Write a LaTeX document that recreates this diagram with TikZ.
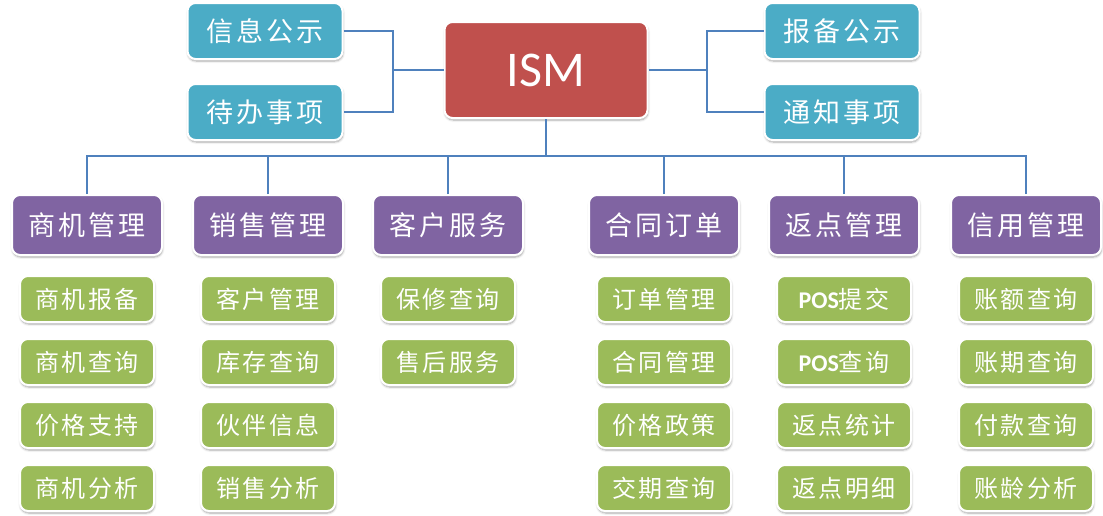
\documentclass[tikz,border=0pt]{standalone}
\usepackage{fontspec}
\setmainfont[LetterSpace=10]{Noto Sans CJK SC}
\newfontfamily\latinfont{Carlito}
\usetikzlibrary{positioning,shadows.blur}
\definecolor{noteblue}{HTML}{4BACC6}
\definecolor{rootred}{HTML}{C0504D}
\definecolor{modpurple}{HTML}{8064A2}
\definecolor{subgreen}{HTML}{9BBB59}
\definecolor{linkblue}{HTML}{4F81BD}
\tikzset{
  card/.style={draw=white, line width=2pt, rounded corners=8pt, text=white, inner sep=0pt,
    blur shadow={shadow xshift=0.5pt, shadow yshift=-2pt, shadow blur steps=6, shadow opacity=35}},
  rootcard/.style={card, fill=rootred, minimum width=203pt, minimum height=96pt,
    font=\latinfont\fontsize{50}{52}\selectfont},
  notecard/.style={card, fill=noteblue, minimum width=155pt, minimum height=56pt,
    font=\fontsize{27}{30}\selectfont},
  modcard/.style={card, fill=modpurple, minimum width=150pt, minimum height=60pt,
    font=\fontsize{27}{30}\selectfont},
  subcard/.style={card, fill=subgreen, minimum width=134pt, minimum height=46pt,
    font=\fontsize{24}{26}\selectfont},
  link/.style={draw=linkblue, line width=1.5pt}
}

\begin{document}
\begin{tikzpicture}[x=1pt,y=-1pt]
        \useasboundingbox (0,0) rectangle (1103,515);

        %-----------------------------------------------
        \node[rootcard] (ism) at (546,70) {ISM};
        \node[notecard] (info) at (265,31) {信息公示};
        \node[notecard] (todo) at (265,112) {待办事项};
        \node[notecard] (report) at (842,31) {报备公示};
        \node[notecard] (notice) at (842,112) {通知事项};

        % top connectors
        \coordinate (lj) at (393,70);
        \coordinate (rj) at (707,70);
        \draw[link] (info.east) -| (lj) |- (todo.east);
        \draw[link] (lj) -- (ism.west);
        \draw[link] (report.west) -| (rj) |- (notice.west);
        \draw[link] (rj) -- (ism.east);

        %-----------------------------------------------
        \coordinate (bus) at (546,156);
        \draw[link] (ism.south) -- (bus);

        \foreach \x/\name/\items [count=\i] in {
            87/商机管理/{商机报备,商机查询,价格支持,商机分析},
            268/销售管理/{客户管理,库存查询,伙伴信息,销售分析},
            448/客户服务/{保修查询,售后服务},
            664/合同订单/{订单管理,合同管理,价格政策,交期查询},
            844/返点管理/{{\latinfont\bfseries POS}提交,{\latinfont\bfseries POS}查询,返点统计,返点明细},
            1026/信用管理/{账额查询,账期查询,付款查询,账龄分析}}
        {
            \node[modcard] (m\i) at (\x,225) {\name};
            \draw[link] (m\i.north) |- (bus);
            \foreach \t [count=\r] in \items
            \node[subcard] (s\i-\r) at (\x,236+63*\r) {\t};
        }

\end{tikzpicture}
\end{document}
